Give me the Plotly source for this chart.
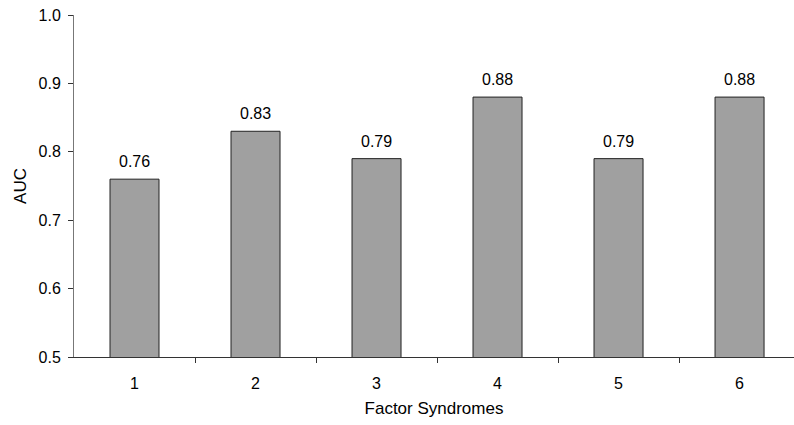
import plotly.graph_objects as go

categories = [1, 2, 3, 4, 5, 6]
auc = [0.76, 0.83, 0.79, 0.88, 0.79, 0.88]
tick_labels = ["1", "2", "3", "4", "5", "6"]
value_labels = [f"{v:.2f}" for v in auc]

FONT = "Liberation Sans, Arial"

fig = go.Figure(go.Bar(
    x=categories, y=auc, width=0.405,
    marker=dict(color="#a0a0a0", line=dict(color="#222222", width=1)),
    hoverinfo="skip",
))

for xv, yv, t in zip(categories, auc, value_labels):
    fig.add_annotation(x=xv, y=yv, text=t, showarrow=False,
                       yanchor="bottom", yshift=7,
                       font=dict(family=FONT, size=16, color="#000"))

fig.update_layout(
    width=794, height=425,
    margin=dict(l=74, r=0, t=15, b=68),
    plot_bgcolor="white", paper_bgcolor="white",
    font=dict(family=FONT, size=16, color="#000"),
    showlegend=False,
    xaxis=dict(
        range=[0.5, 6.45], tickvals=categories, ticktext=tick_labels,
        ticks="", showgrid=False, showline=True, linecolor="#333", linewidth=1,
        ticklabelstandoff=12,
        minor=dict(tickvals=[1.5, 2.5, 3.5, 4.5, 5.5], ticks="outside", ticklen=5,
                   tickcolor="#333", showgrid=False),
        title=dict(text="Factor Syndromes", standoff=10, font=dict(size=17)),
        zeroline=False,
    ),
    yaxis=dict(
        range=[0.5, 1.0], dtick=0.1, tickformat=".1f",
        ticks="outside", ticklen=5, tickcolor="#333",
        ticklabelstandoff=4,
        showgrid=False, showline=True, linecolor="#777", linewidth=1,
        title=dict(text="AUC", standoff=7, font=dict(size=17)),
        zeroline=False,
    ),
)

fig.write_html("out.html")
